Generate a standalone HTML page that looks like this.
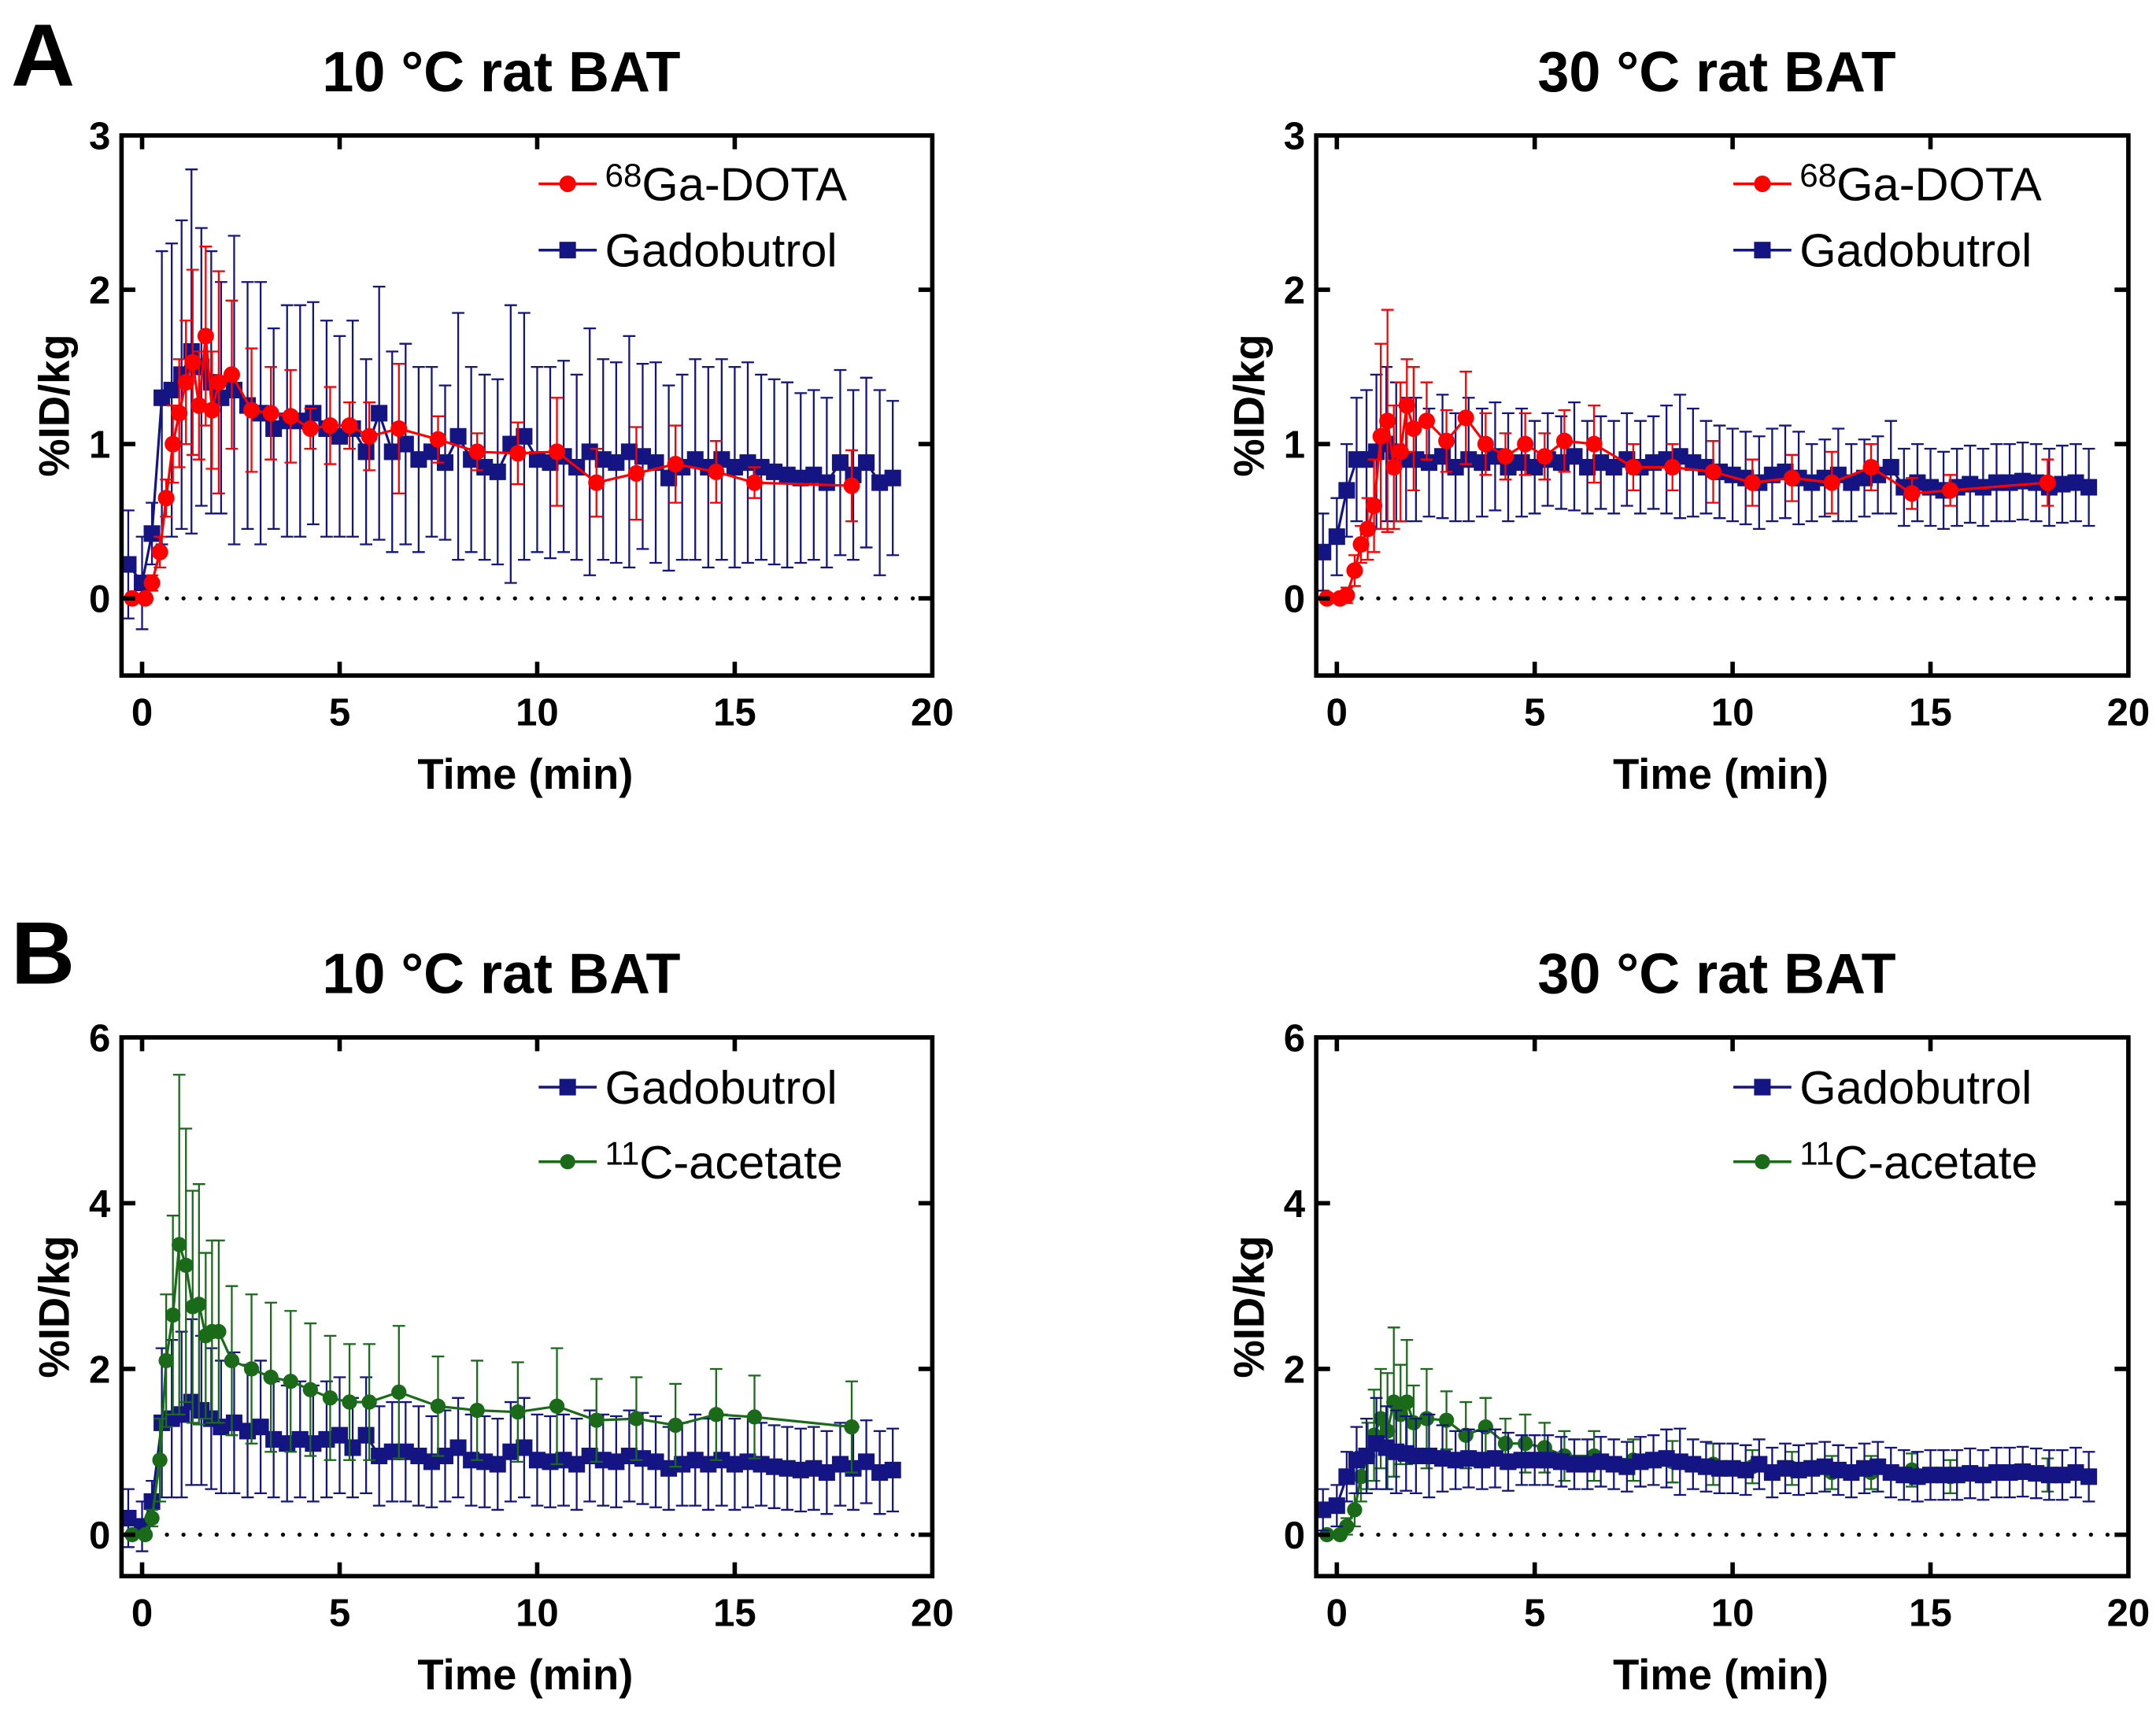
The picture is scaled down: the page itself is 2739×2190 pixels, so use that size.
<!DOCTYPE html>
<html><head><meta charset="utf-8"><style>
html,body{margin:0;padding:0;background:#fff;}
svg{display:block;font-family:"Liberation Sans",Arial,sans-serif;}
</style></head><body>
<svg id="fig" width="2739" height="2190" viewBox="0 0 1561 1248" xmlns="http://www.w3.org/2000/svg">
<rect width="1561" height="1248" fill="#fff"/>
<text x="8" y="62" font-size="64" font-weight="bold">A</text>
<text x="8" y="712" font-size="64" font-weight="bold">B</text>
</svg>
<script>
const gadT=[-0.35,0,0.25,0.5,0.75,1,1.25,1.5,1.75,2,2.33,2.67,3,3.33,3.67,4,4.33,4.67,5,5.33,5.67,6,6.33,6.67,7,7.33,7.67,8,8.33,8.67,9,9.33,9.67,10,10.33,10.67,11,11.33,11.67,12,12.33,12.67,13,13.33,13.67,14,14.33,14.67,15,15.33,15.67,16,16.33,16.67,17,17.33,17.67,18,18.33,18.67,19];
const tracerT=[-0.25,0.08,0.25,0.45,0.61,0.78,0.94,1.11,1.28,1.44,1.61,1.77,1.94,2.27,2.77,3.26,3.76,4.26,4.76,5.25,5.75,6.5,7.49,8.48,9.51,10.5,11.5,12.51,13.5,14.53,15.5,17.96];
const gadA1=[0.22,0.1,0.42,1.3,1.35,1.45,1.6,1.5,1.4,1.3,1.35,1.25,1.2,1.1,1.15,1.15,1.2,1.1,1.05,1.1,0.95,1.2,0.95,1.0,0.9,0.95,0.88,1.05,0.9,0.85,0.82,1.0,1.05,0.9,0.88,0.92,0.85,0.95,0.9,0.88,0.95,0.92,0.88,0.78,0.85,0.9,0.85,0.9,0.85,0.88,0.85,0.82,0.8,0.78,0.8,0.75,0.88,0.8,0.88,0.75,0.78];
const gadA1e=[0.35,0.3,0.2,0.95,0.95,1.0,1.18,0.9,0.85,0.75,1.0,0.8,0.85,0.65,0.75,0.75,0.72,0.7,0.65,0.7,0.6,0.82,0.65,0.65,0.6,0.55,0.5,0.8,0.6,0.6,0.6,0.9,0.8,0.6,0.62,0.62,0.6,0.8,0.65,0.65,0.75,0.6,0.65,0.6,0.6,0.65,0.65,0.65,0.65,0.65,0.6,0.6,0.6,0.55,0.55,0.55,0.6,0.55,0.55,0.6,0.5];
const dotaA1=[0,0,0.1,0.3,0.65,1.0,1.2,1.4,1.53,1.25,1.7,1.22,1.4,1.45,1.22,1.2,1.18,1.1,1.12,1.12,1.05,1.1,1.03,0.95,0.94,0.95,0.75,0.81,0.87,0.82,0.75,0.73];
const dotaA1e=[0,0,0.05,0.1,0.12,0.25,0.35,0.4,0.6,0.35,0.58,0.38,0.72,0.48,0.4,0.3,0.3,0.13,0.25,0.15,0.22,0.42,0.15,0.12,0.2,0.35,0.22,0.3,0.25,0.2,0.1,0.23];
const gadA2=[0.3,0.4,0.7,0.9,0.9,0.95,1.0,0.95,0.9,0.9,0.88,0.92,0.85,0.9,0.88,0.92,0.85,0.88,0.85,0.9,0.88,0.92,0.85,0.88,0.85,0.9,0.85,0.88,0.9,0.92,0.88,0.85,0.82,0.8,0.78,0.75,0.8,0.82,0.78,0.75,0.78,0.8,0.75,0.78,0.8,0.85,0.72,0.75,0.72,0.7,0.72,0.74,0.72,0.75,0.75,0.76,0.75,0.72,0.74,0.75,0.72];
const gadA2e=[0.25,0.25,0.3,0.4,0.45,0.5,0.5,0.45,0.4,0.4,0.35,0.4,0.35,0.4,0.35,0.35,0.35,0.35,0.3,0.3,0.3,0.35,0.3,0.3,0.3,0.3,0.3,0.3,0.35,0.4,0.35,0.3,0.3,0.3,0.3,0.3,0.3,0.3,0.3,0.25,0.25,0.3,0.25,0.25,0.25,0.3,0.25,0.25,0.25,0.25,0.25,0.25,0.25,0.25,0.25,0.25,0.25,0.25,0.25,0.25,0.25];
const dotaA2=[0,0,0.02,0.18,0.35,0.45,0.6,1.05,1.15,0.85,0.95,1.25,1.1,1.15,1.02,1.17,1.0,0.92,1.0,0.92,1.02,1.0,0.85,0.85,0.82,0.75,0.78,0.75,0.85,0.68,0.7,0.75];
const dotaA2e=[0,0,0.05,0.1,0.12,0.2,0.3,0.6,0.72,0.4,0.45,0.3,0.4,0.25,0.2,0.3,0.2,0.15,0.2,0.15,0.2,0.25,0.15,0.15,0.2,0.15,0.15,0.2,0.15,0.1,0.1,0.15];
const gadB1=[0.2,0.1,0.4,1.35,1.4,1.45,1.6,1.5,1.4,1.3,1.35,1.25,1.3,1.15,1.1,1.15,1.1,1.15,1.2,1.05,1.2,0.95,1.0,1.0,0.95,0.88,0.95,1.05,0.9,0.88,0.85,1.0,1.05,0.9,0.88,0.9,0.85,0.95,0.9,0.88,0.95,0.92,0.88,0.8,0.85,0.9,0.85,0.9,0.85,0.88,0.85,0.82,0.8,0.78,0.8,0.75,0.85,0.8,0.88,0.75,0.78];
const gadB1e=[0.35,0.3,0.25,0.9,0.95,1.0,1.0,0.9,0.85,0.8,0.85,0.8,0.8,0.7,0.7,0.7,0.7,0.7,0.7,0.6,0.7,0.6,0.6,0.6,0.6,0.55,0.55,0.6,0.55,0.55,0.55,0.6,0.6,0.55,0.55,0.55,0.55,0.55,0.55,0.55,0.55,0.55,0.55,0.5,0.5,0.55,0.55,0.55,0.55,0.55,0.5,0.5,0.5,0.5,0.5,0.5,0.5,0.5,0.5,0.5,0.5];
const acB1=[0,0,0.2,0.9,2.1,2.65,3.5,3.25,2.75,2.78,2.4,2.45,2.45,2.1,2.0,1.9,1.85,1.75,1.65,1.6,1.6,1.72,1.55,1.5,1.48,1.55,1.38,1.4,1.32,1.45,1.42,1.3];
const acB1e=[0,0,0.1,0.5,0.8,1.2,2.05,1.65,1.4,1.45,1.0,1.1,1.1,0.9,0.9,0.9,0.85,0.8,0.75,0.7,0.7,0.8,0.6,0.6,0.6,0.7,0.5,0.5,0.5,0.55,0.5,0.55];
const gadB2=[0.3,0.35,0.7,0.9,0.95,1.1,1.05,1.0,0.98,0.95,0.95,0.92,0.9,0.92,0.9,0.92,0.88,0.9,0.9,0.9,0.88,0.85,0.85,0.88,0.85,0.82,0.88,0.9,0.92,0.88,0.85,0.82,0.8,0.8,0.78,0.85,0.75,0.8,0.78,0.8,0.82,0.78,0.75,0.8,0.82,0.75,0.72,0.7,0.72,0.72,0.72,0.74,0.72,0.75,0.75,0.76,0.74,0.72,0.72,0.75,0.7];
const gadB2e=[0.25,0.25,0.3,0.4,0.45,0.55,0.5,0.5,0.45,0.45,0.5,0.4,0.35,0.35,0.35,0.35,0.35,0.3,0.3,0.3,0.3,0.3,0.3,0.3,0.3,0.3,0.3,0.3,0.35,0.4,0.3,0.3,0.3,0.3,0.3,0.3,0.3,0.3,0.3,0.3,0.3,0.3,0.3,0.3,0.3,0.3,0.3,0.3,0.3,0.3,0.3,0.3,0.3,0.3,0.3,0.3,0.3,0.3,0.3,0.3,0.3];
const acB2=[0,0,0.1,0.3,0.7,0.95,1.2,1.4,1.25,1.6,1.45,1.6,1.35,1.4,1.38,1.2,1.3,1.1,1.1,1.05,0.95,0.95,0.9,0.88,0.85,0.82,0.8,0.75,0.75,0.78,0.7,0.72];
const acB2e=[0,0,0.1,0.2,0.3,0.4,0.55,0.6,0.7,0.9,0.6,0.75,0.45,0.6,0.35,0.4,0.35,0.3,0.35,0.3,0.3,0.3,0.25,0.25,0.25,0.2,0.2,0.2,0.2,0.2,0.2,0.2];
const xTicks=[0,5,10,15,20];
const yTicksA=[0,1,2,3];
const yTicksB=[0,2,4,6];

const NS="http://www.w3.org/2000/svg";
const svg=document.getElementById('fig');
const RED="#ff0000",BLUE="#141482",GREEN="#1a6a1a";
function el(tag,attrs,parent){const e=document.createElementNS(NS,tag);for(const k in attrs)e.setAttribute(k,attrs[k]);(parent||svg).appendChild(e);return e;}

function panel(o){
  const g=el('g',{});
  
  
  const L=o.x0,R=o.x1,T=o.y0,B=o.y1;
  const xs=t=>L+(t+0.52)/(20.52)*(R-L);
  const ys=v=>B-(v-o.ymin)/(o.ymax-o.ymin)*(B-T);
  const title=el('text',{x:o.tx,y:T-32,'font-size':41,'font-weight':'bold','text-anchor':'middle'},g);
  title.textContent=o.title;
  
  
  const zl=el('line',{x1:xs(0)+6,x2:xs(20),y1:ys(0),y2:ys(0),stroke:'#000','stroke-width':3,'stroke-dasharray':'0 12','stroke-linecap':'round'},g);
  
  
  o.series.forEach(s=>{
    const sg=el('g',{},g);
    
    
    const xsF=s.t;
    s.v.forEach((v,i)=>{
      const e=s.e[i];if(!e)return;
      const X=xs(xsF[i]);
      const eb=el('path',{d:`M${X},${ys(v-e)}V${ys(v+e)}M${X-4.5},${ys(v+e)}H${X+4.5}M${X-4.5},${ys(v-e)}H${X+4.5}`,stroke:s.color,'stroke-width':1.3,fill:'none'},sg);
      
      
    });
    const pts=s.v.map((v,i)=>xs(xsF[i])+','+ys(v)).join(' ');
    const pl=el('polyline',{points:pts,fill:'none',stroke:s.color,'stroke-width':1.8},sg);
    
    
    s.v.forEach((v,i)=>{
      const X=xs(xsF[i]),Y=ys(v);let m;
      if(s.shape==='sq')m=el('rect',{x:X-6,y:Y-6,width:12,height:12,fill:s.color},sg);
      else m=el('circle',{cx:X,cy:Y,r:s.r||6,fill:s.color},sg);
      
      
    });
  });
  const fr=el('rect',{x:L,y:T,width:R-L,height:B-T,fill:'none',stroke:'#000','stroke-width':3.2},g);
  
  
  xTicks.forEach(t=>{
    const X=xs(t);
    if(t<20){
      el('line',{x1:X,x2:X,y1:B,y2:B-10,stroke:'#000','stroke-width':3.2},g);
      el('line',{x1:X,x2:X,y1:T,y2:T+10,stroke:'#000','stroke-width':3.2},g);
    }
    const tl=el('text',{x:X,y:B+36,'font-size':28,'font-weight':'bold','text-anchor':'middle'},g);
    tl.textContent=t;
    
    
  });
  o.yTicks.forEach(v=>{
    const Y=ys(v);
    if(v!==o.ymax){
      el('line',{x1:L,x2:L+10,y1:Y,y2:Y,stroke:'#000','stroke-width':3.2},g);
      el('line',{x1:R,x2:R-10,y1:Y,y2:Y,stroke:'#000','stroke-width':3.2},g);
    }
    const tl=el('text',{x:L-8,y:Y+10,'font-size':28,'font-weight':'bold','text-anchor':'end'},g);
    tl.textContent=v;
    
    
  });
  const xt=el('text',{x:xs(9.7),y:B+82,'font-size':31,'font-weight':'bold','text-anchor':'middle'},g);
  xt.textContent='Time (min)';
  
  
  const yt=el('text',{x:0,y:0,'font-size':31,'font-weight':'bold','text-anchor':'middle',transform:`translate(${L-38},${(T+B)/2}) rotate(-90)`},g);
  yt.textContent='%ID/kg';
  
  
  o.legend.forEach((lg,i)=>{
    const lgG=el('g',{},g);
    
    
    const ly=o.legY[i], lx=L+302;
    el('line',{x1:lx,x2:lx+42,y1:ly,y2:ly,stroke:lg.color,'stroke-width':2},lgG);
    if(lg.shape==='sq')el('rect',{x:lx+15,y:ly-6,width:12,height:12,fill:lg.color},lgG);
    else el('circle',{cx:lx+21,cy:ly,r:lg.r||6,fill:lg.color},lgG);
    const tx=el('text',{x:lx+48,y:ly+12,'font-size':34},lgG);
    if(lg.sup){const s1=el('tspan',{'font-size':24,dy:-10},tx);s1.textContent=lg.sup;const s2=el('tspan',{dy:10},tx);s2.textContent=lg.text;}
    else tx.textContent=lg.text;
  });
}
const TA=98,BA=489,TB=751,BB=1141;
panel({name:'chart-a-10c',title:'10 °C rat BAT',tx:363,x0:88,x1:675,y0:TA,y1:BA,ymin:-0.5,ymax:3,yTicks:yTicksA,legY:[133,181],
  series:[{name:'gadobutrol',t:gadT,v:gadA1,e:gadA1e,color:BLUE,shape:'sq'},{name:'ga-dota',t:tracerT,v:dotaA1,e:dotaA1e,color:RED}],
  legend:[{sup:'68',text:'Ga-DOTA',color:RED},{text:'Gadobutrol',color:BLUE,shape:'sq'}]});
panel({name:'chart-a-30c',title:'30 °C rat BAT',tx:1243,x0:953,x1:1541,y0:TA,y1:BA,ymin:-0.5,ymax:3,yTicks:yTicksA,legY:[133,181],
  series:[{name:'gadobutrol',t:gadT,v:gadA2,e:gadA2e,color:BLUE,shape:'sq'},{name:'ga-dota',t:tracerT,v:dotaA2,e:dotaA2e,color:RED}],
  legend:[{sup:'68',text:'Ga-DOTA',color:RED},{text:'Gadobutrol',color:BLUE,shape:'sq'}]});
panel({name:'chart-b-10c',title:'10 °C rat BAT',tx:363,x0:88,x1:675,y0:TB,y1:BB,ymin:-0.5,ymax:6,yTicks:yTicksB,legY:[787,841],
  series:[{name:'gadobutrol',t:gadT,v:gadB1,e:gadB1e,color:BLUE,shape:'sq'},{name:'c-acetate',t:tracerT,v:acB1,e:acB1e,color:GREEN,r:5.5}],
  legend:[{text:'Gadobutrol',color:BLUE,shape:'sq'},{sup:'11',text:'C-acetate',color:GREEN,r:5.5}]});
panel({name:'chart-b-30c',title:'30 °C rat BAT',tx:1243,x0:953,x1:1541,y0:TB,y1:BB,ymin:-0.5,ymax:6,yTicks:yTicksB,legY:[787,841],
  series:[{name:'c-acetate',t:tracerT,v:acB2,e:acB2e,color:GREEN,r:5.5},{name:'gadobutrol',t:gadT,v:gadB2,e:gadB2e,color:BLUE,shape:'sq'}],
  legend:[{text:'Gadobutrol',color:BLUE,shape:'sq'},{sup:'11',text:'C-acetate',color:GREEN,r:5.5}]});
</script>
</body></html>
